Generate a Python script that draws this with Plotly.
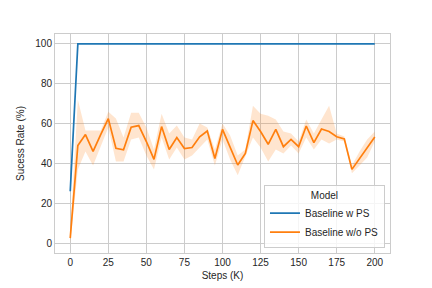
import plotly.graph_objects as go

steps = list(range(0, 205, 5))

w_ps_mean = [26] + [100] * 40
w_ps_lo = [20] + [100] * 40
w_ps_hi = [32] + [100] * 40

wo_ps_mean = [2.5, 49, 54.5, 46, 54.5, 62.5, 47.6, 46.8, 58.2, 59,
              51, 42, 58.5, 47, 53, 47.5, 48, 53.4, 56.3, 42.5,
              57.1, 48, 39.2, 45, 61.5, 56, 49.6, 57.1, 48.4, 52.1,
              48.4, 58.8, 50.4, 57.3, 56, 53.4, 52.3, 37, 42.5, 47.5,
              53.3]
wo_ps_lo = [0, 37, 46, 39, 48, 58, 41, 41, 52, 53,
            44, 37, 53, 42, 48, 42, 44, 48, 52, 39,
            52, 42, 34, 43, 53, 48, 41, 47, 45, 49,
            45, 53, 47, 52, 50, 52, 51, 35, 39, 43,
            51]
wo_ps_hi = [5, 72, 56.5, 56.5, 56.5, 66, 62.5, 53, 65.5, 65.5,
            58, 47, 65, 55, 59, 53, 52, 60, 58, 47,
            60, 54, 44, 47, 69, 65, 64, 62, 56, 55,
            51, 62, 55, 62, 69, 55, 53.5, 39, 46, 52,
            56]

series = [
    ("Baseline w PS", w_ps_mean, w_ps_lo, w_ps_hi, "#1f77b4", "rgba(31,119,180,0.2)"),
    ("Baseline w/o PS", wo_ps_mean, wo_ps_lo, wo_ps_hi, "#ff7f0e", "rgba(255,127,14,0.2)"),
]

fig = go.Figure()
for name, mean, lo, hi, col, fcol in series:
    fig.add_trace(go.Scatter(
        x=steps + steps[::-1], y=hi + lo[::-1], fill="toself",
        fillcolor=fcol, line=dict(width=0), mode="lines",
        hoverinfo="skip", showlegend=False))
    fig.add_trace(go.Scatter(
        x=steps, y=mean, mode="lines", name=name,
        line=dict(color=col, width=1.7)))

font = "Liberation Sans, Arial, DejaVu Sans, sans-serif"
axis_common = dict(
    showgrid=True, gridcolor="#cccccc", gridwidth=1,
    showline=True, linecolor="#cccccc", linewidth=1, mirror=True,
    zeroline=False, ticks="", automargin=False,
    tickfont=dict(size=10, color="#262626", family=font),
)
fig.update_xaxes(range=[-10, 210], tickvals=[0, 25, 50, 75, 100, 125, 150, 175, 200],
                 title=dict(text="Steps (K)", font=dict(size=10, color="#262626", family=font), standoff=4),
                 **axis_common)
fig.update_yaxes(range=[-5, 105], tickvals=[0, 20, 40, 60, 80, 100],
                 title=dict(text="Sucess Rate (%)", font=dict(size=10, color="#262626", family=font), standoff=8),
                 **axis_common)

fig.update_layout(
    width=424, height=280,
    margin=dict(l=47, r=42, t=26, b=35),
    paper_bgcolor="white", plot_bgcolor="white",
    font=dict(family=font, size=10, color="#262626"),
    legend=dict(
        title=dict(text="Model", side="top center", font=dict(size=10, color="#262626")),
        x=0.985, y=0.025, xanchor="right", yanchor="bottom",
        bgcolor="rgba(255,255,255,0.8)", bordercolor="#cccccc", borderwidth=1,
        font=dict(size=10, color="#262626"), tracegroupgap=0, itemwidth=30,
    ),
)

fig.write_html("out.html")
